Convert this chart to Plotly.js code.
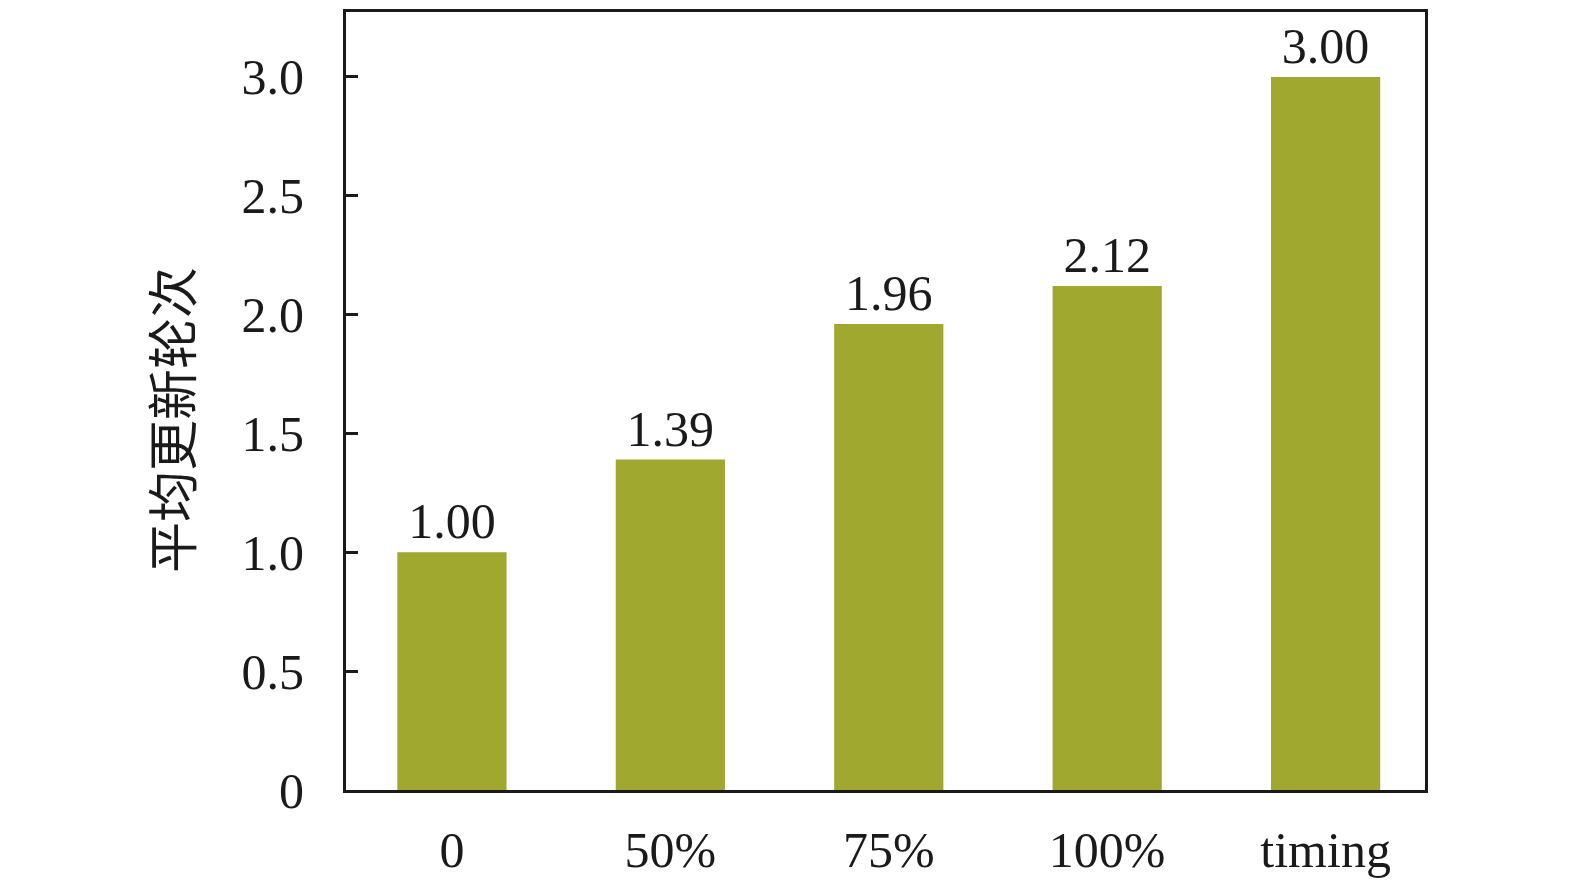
<!DOCTYPE html>
<html>
<head>
<meta charset="utf-8">
<script src="https://cdn.plot.ly/plotly-3.0.1.min.js"></script>
<style>
  html, body { margin: 0; padding: 0; background: #fff; }
  #chart { width: 1575px; height: 889px; }
</style>
</head>
<body>
<div id="chart"></div>
<script>
// categories and values
var categories = ['0', '50%', '75%', '100%', 'timing'];
var rounds = [1.00, 1.39, 1.96, 2.12, 3.00];
var yTicks = [0, 0.5, 1.0, 1.5, 2.0, 2.5, 3.0];
var yTickText = ['0', '0.5', '1.0', '1.5', '2.0', '2.5', '3.0'];
var yTitle = '平均更新轮次';

var serif = 'Liberation Serif, Times New Roman, serif';

var data = [{
    x: categories,
    y: rounds,
    type: 'bar',
    width: 0.5,
    marker: { color: '#a0a830', line: { width: 0 } },
    text: rounds.map(function (v) { return v.toFixed(2); }),
    textposition: 'outside',
    textfont: { family: serif, size: 50, color: '#1a1a1a' },
    cliponaxis: false,
    hoverinfo: 'x+y'
}];

var layout = {
    width: 1575,
    height: 889,
    margin: { l: 346, r: 150, t: 12, b: 99 },
    paper_bgcolor: '#fff',
    plot_bgcolor: '#fff',
    showlegend: false,
    bargap: 0.5,
    font: { family: serif, size: 50, color: '#1a1a1a' },
    xaxis: {
        type: 'category',
        automargin: false,
        range: [-0.485, 4.455],
        showgrid: false,
        zeroline: false,
        showline: true,
        mirror: true,
        linecolor: '#1a1a1a',
        linewidth: 3,
        ticks: '',
        ticklabelstandoff: 14,
        tickfont: { family: serif, size: 50, color: '#1a1a1a' }
    },
    yaxis: {
        automargin: false,
        range: [0, 3.273],
        tickvals: yTicks,
        ticktext: yTickText,
        showgrid: false,
        zeroline: false,
        showline: true,
        mirror: true,
        linecolor: '#1a1a1a',
        linewidth: 3,
        ticks: 'inside',
        ticklen: 12,
        tickwidth: 3,
        tickcolor: '#1a1a1a',
        ticklabelstandoff: 29,
        tickfont: { family: serif, size: 50, color: '#1a1a1a' }
    },
    // y title placed as an annotation so it sits a little below the centre, as in the reference
    annotations: [{
        text: yTitle,
        xref: 'paper', yref: 'paper',
        x: -0.158, y: 0.475,
        xanchor: 'center', yanchor: 'middle',
        textangle: -90,
        showarrow: false,
        font: { family: 'Liberation Serif, Noto Sans CJK SC', size: 51, color: '#1a1a1a' }
    }]
};

Plotly.newPlot('chart', data, layout, { displayModeBar: false, staticPlot: true });
</script>
</body>
</html>
